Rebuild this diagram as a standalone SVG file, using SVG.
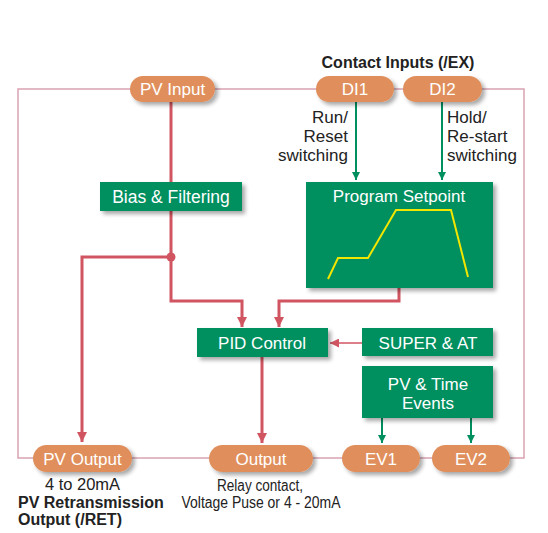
<svg xmlns="http://www.w3.org/2000/svg" width="548" height="533" viewBox="0 0 548 533">
<defs>
<style>
.pill{fill:#E08F5B;}
.box{fill:#008F5F;}
.t{font-family:"Liberation Sans",Arial,sans-serif;fill:#fff;font-size:17px;text-anchor:middle;}
.k{font-family:"Liberation Sans",Arial,sans-serif;fill:#222;font-size:17px;}
.b{font-family:"Liberation Sans",Arial,sans-serif;fill:#222;font-size:16px;font-weight:bold;}
.frame{fill:none;stroke:#D9A2B2;stroke-width:1.5;}
.red{fill:none;stroke:#D05560;stroke-width:3;}
.redt{fill:none;stroke:#D05560;stroke-width:1.5;}
.grn{fill:none;stroke:#008F5F;stroke-width:2;}
</style>
<filter id="sh" x="-10%" y="-20%" width="130%" height="160%">
<feGaussianBlur in="SourceAlpha" stdDeviation="2"/>
<feOffset dx="3" dy="3" result="o"/>
<feComponentTransfer><feFuncA type="linear" slope="0.35"/></feComponentTransfer>
<feMerge><feMergeNode/><feMergeNode in="SourceGraphic"/></feMerge>
</filter>
<marker id="ar" viewBox="0 0 10 10" refX="10" refY="5" markerWidth="3.5" markerHeight="4.5" orient="auto" markerUnits="strokeWidth"><path d="M0,0 L10,5 L0,10 z" fill="#D05560"/></marker>
<marker id="art" viewBox="0 0 10 10" refX="10" refY="5" markerWidth="8" markerHeight="6" orient="auto" markerUnits="strokeWidth"><path d="M0,0 L10,5 L0,10 z" fill="#D05560"/></marker>
<marker id="ag" viewBox="0 0 10 10" refX="10" refY="5" markerWidth="5" markerHeight="4" orient="auto" markerUnits="strokeWidth"><path d="M0,0 L10,5 L0,10 z" fill="#008F5F"/></marker>
</defs>
<rect width="548" height="533" fill="#fff"/>
<g id="connectors">
<path class="frame" d="M18,89 H524 V458 H18 Z"/>
<path class="red" d="M171,102 V257"/>
<path class="red" d="M171,257 H82 V442" marker-end="url(#ar)"/>
<path class="red" d="M171,257 V301 H242 V327" marker-end="url(#ar)"/>
<circle cx="171" cy="257" r="4.5" fill="#D05560"/>
<path class="red" d="M399,288 V301 H279 V327" marker-end="url(#ar)"/>
<path class="red" d="M262,357 V443" marker-end="url(#ar)"/>
<path class="redt" d="M362,343 H330" marker-end="url(#art)"/>
<path class="grn" d="M356,102 V180" marker-end="url(#ag)"/>
<path class="grn" d="M442,102 V180" marker-end="url(#ag)"/>
<path class="grn" d="M382,418 V443" marker-end="url(#ag)"/>
<path class="grn" d="M471,418 V443" marker-end="url(#ag)"/>
</g>
<text class="b" x="398" y="68" text-anchor="middle">Contact Inputs (/EX)</text>
<g id="pv-input"><rect class="pill" x="130" y="76" width="85" height="26" rx="13" filter="url(#sh)"/><text class="t" x="172.5" y="95">PV Input</text></g>
<g id="di1"><rect class="pill" x="316" y="76" width="78" height="26" rx="13" filter="url(#sh)"/><text class="t" x="355" y="95">DI1</text></g>
<g id="di2"><rect class="pill" x="403" y="76" width="79" height="26" rx="13" filter="url(#sh)"/><text class="t" x="442.5" y="95">DI2</text></g>
<g id="di1-label"><text class="k" x="348" y="123" text-anchor="end">Run/</text><text class="k" x="348" y="142" text-anchor="end">Reset</text><text class="k" x="348" y="161" text-anchor="end">switching</text></g>
<g id="di2-label"><text class="k" x="447" y="123">Hold/</text><text class="k" x="447" y="142">Re-start</text><text class="k" x="447" y="161">switching</text></g>
<g id="bias"><rect class="box" x="100" y="182" width="142" height="29" filter="url(#sh)"/><text class="t" x="171" y="203" style="font-size:17.5px">Bias &amp; Filtering</text></g>
<g id="program-setpoint"><rect class="box" x="306" y="182" width="187" height="106" filter="url(#sh)"/><text class="t" x="399" y="202">Program Setpoint</text><polyline points="328,279 338,258 368,258 396,210 451,210 468,277" fill="none" stroke="#F2E600" stroke-width="2"/></g>
<g id="pid"><rect class="box" x="197" y="328" width="131" height="29" filter="url(#sh)"/><text class="t" x="262" y="349">PID Control</text></g>
<g id="super"><rect class="box" x="362" y="328" width="131" height="28" filter="url(#sh)"/><text class="t" x="428" y="349">SUPER &amp; AT</text></g>
<g id="events"><rect class="box" x="362" y="366" width="131" height="52" filter="url(#sh)"/><text class="t" x="428" y="390">PV &amp; Time</text><text class="t" x="428" y="409">Events</text></g>
<g id="pv-output"><rect class="pill" x="33" y="445" width="99" height="27" rx="13.5" filter="url(#sh)"/><text class="t" x="82.5" y="465">PV Output</text></g>
<g id="output"><rect class="pill" x="209" y="445" width="104" height="27" rx="13.5" filter="url(#sh)"/><text class="t" x="261" y="465">Output</text></g>
<g id="ev1"><rect class="pill" x="342" y="445" width="78" height="27" rx="13.5" filter="url(#sh)"/><text class="t" x="381" y="465">EV1</text></g>
<g id="ev2"><rect class="pill" x="432" y="445" width="78" height="27" rx="13.5" filter="url(#sh)"/><text class="t" x="471" y="465">EV2</text></g>
<text class="k" x="82.5" y="490" text-anchor="middle" style="font-size:16.5px">4 to 20mA</text>
<text class="b" x="18" y="508">PV Retransmission</text>
<text class="b" x="18" y="525">Output (/RET)</text>
<text class="k" x="260" y="491" text-anchor="middle" style="font-size:16px" textLength="86" lengthAdjust="spacingAndGlyphs">Relay contact,</text>
<text class="k" x="261" y="508" text-anchor="middle" style="font-size:16px" textLength="159" lengthAdjust="spacingAndGlyphs">Voltage Puse or 4 - 20mA</text>
</svg>
